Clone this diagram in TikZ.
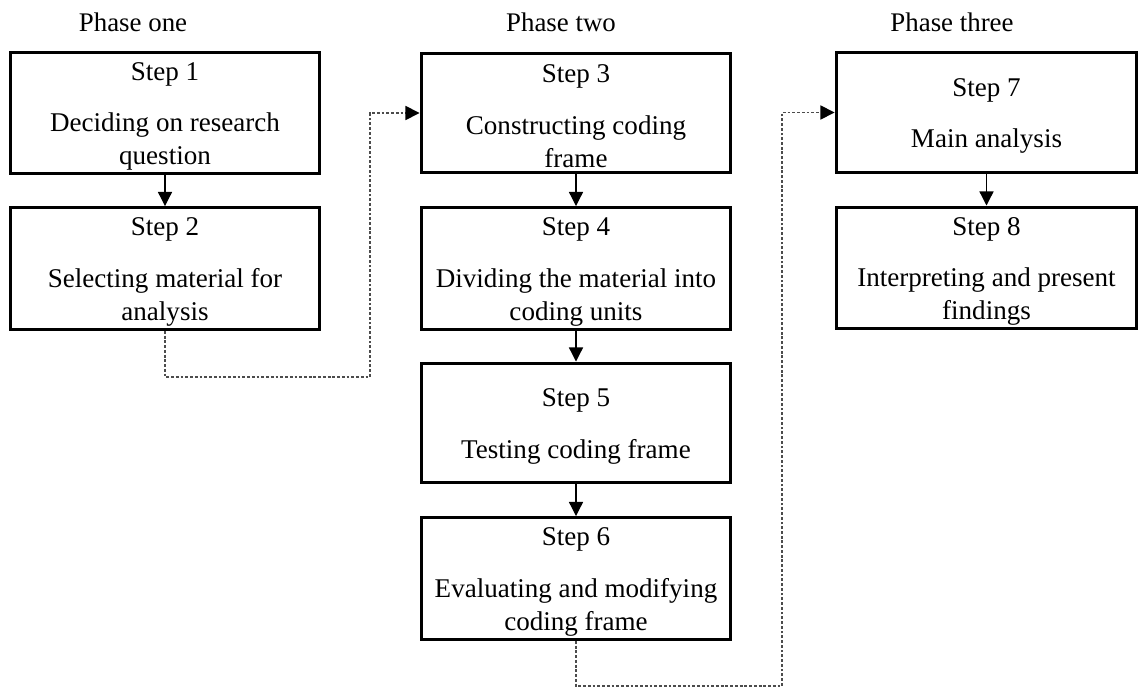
\documentclass[tikz,border=0pt]{standalone}
\usepackage{fontspec}
\setmainfont{Liberation Serif}
\usetikzlibrary{arrows.meta}
\newcommand\stepname[1]{\rule{0pt}{14pt}Step #1}
\begin{document}
\begin{tikzpicture}[x=0.02cm,y=-0.02cm,
  stepbox/.style={draw,line width=1.7pt,align=center,inner sep=2pt,
    minimum width=6.2cm,minimum height=2.4cm,
    font=\fontsize{15.4}{18.8}\selectfont},
  widebox/.style={stepbox,minimum width=6.02cm},
  phase/.style={font=\fontsize{15.3}{18.7}\selectfont},
  solidarrow/.style={line width=0.7pt,-{Triangle[length=8pt,width=8pt]}},
  dasharrow/.style={line width=0.9pt,gray!60!black,dash pattern=on 1.6pt off 1.1pt,
    -{Triangle[length=8pt,width=8pt,fill=black,color=black]}}]
\useasboundingbox (0,0) rectangle (1139,689);
\node[phase] (p1) at (133,22) {Phase one};
\node[phase] (p2) at (561,22) {Phase two};
\node[phase] (p3) at (952,22) {Phase three};
\node[stepbox] (s1) at (165,113) {\stepname{1}\\[10.5pt]Deciding on research\\question};
\node[stepbox] (s2) at (165,268.5) {\stepname{2}\\[10.5pt]Selecting material for\\analysis};
\node[stepbox] (s3) at (576,113) {\stepname{3}\\[10.5pt]Constructing coding\\frame};
\node[stepbox] (s4) at (576,268.5) {\stepname{4}\\[10.5pt]Dividing the material into\\coding units};
\node[stepbox] (s5) at (576,423) {\stepname{5}\\[10.5pt]Testing coding frame};
\node[stepbox] (s6) at (576,578.5) {\stepname{6}\\[10.5pt]Evaluating and modifying\\coding frame};
\node[widebox] (s7) at (986.5,112.5) {\stepname{7}\\[10.5pt]Main analysis};
\node[widebox] (s8) at (986.5,268) {\stepname{8}\\[10.5pt]Interpreting and present\\findings};
\draw[solidarrow] (s1) -- (s2);
\draw[solidarrow] (s3) -- (s4);
\draw[solidarrow] (s4) -- (s5);
\draw[solidarrow] (s5) -- (s6);
\draw[solidarrow] (s7) -- (s8);
\coordinate (d1) at (370,377);
\coordinate (d2) at (782,686);
\draw[dasharrow] (s2.south) |- (d1) |- (s3.west);
\draw[dasharrow] (s6.south) |- (d2) |- (s7.west);
\end{tikzpicture}
\end{document}
